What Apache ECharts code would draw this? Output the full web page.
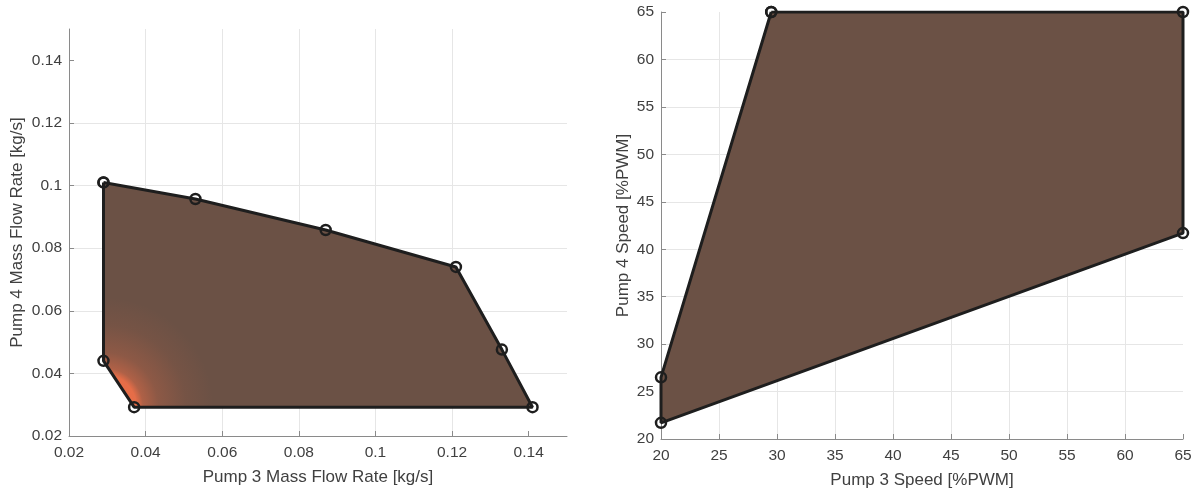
<!DOCTYPE html>
<html>
<head>
<meta charset="utf-8">
<script src="https://cdn.jsdelivr.net/npm/echarts@6/dist/echarts.min.js"></script>
<style>
  html, body { margin: 0; padding: 0; background: #fff; }
  #main { width: 1199px; height: 497px; }
</style>
</head>
<body>
<div id="main"></div>
<script>
// left: mass flow envelope (kg/s)
const flowX = [0.029, 0.053, 0.087, 0.121, 0.133, 0.141, 0.037, 0.029];
const flowY = [0.101, 0.0957, 0.0858, 0.0740, 0.0476, 0.0292, 0.0292, 0.0440];
// where the orange streaks are densest (lower-left corner)
const glowAt = [0.029, 0.0292];
// right: speed envelope (%PWM)
const speedX = [29.5, 65, 65, 20, 20];
const speedY = [65, 65, 41.7, 21.7, 26.5];

const flowTicks = [0.02, 0.04, 0.06, 0.08, 0.1, 0.12, 0.14];
const speedXTicks = [20, 25, 30, 35, 40, 45, 50, 55, 60, 65];
const speedYTicks = [20, 25, 30, 35, 40, 45, 50, 55, 60, 65];

const FILL = '#6b5145';
const EDGE = '#1e1e1e';
const TEXT = '#404040';
const FONT = 'Liberation Sans, Arial, sans-serif';

function pairs(xs, ys) {
  return xs.map((x, i) => [x, ys[i]]);
}

function polygon(idx, xs, ys, fill) {
  const data = pairs(xs, ys);
  return {
    type: 'custom',
    xAxisIndex: idx,
    yAxisIndex: idx,
    silent: true,
    data: data,
    renderItem: function (params, api) {
      if (params.dataIndex !== 0) return null;
      const pts = data.map(p => api.coord(p));
      const f = typeof fill === 'function' ? fill(api) : fill;
      return { type: 'polygon', shape: { points: pts }, style: { fill: f } };
    }
  };
}

function outline(idx, xs, ys) {
  const data = pairs(xs, ys);
  data.push(data[0]);
  return {
    type: 'line',
    xAxisIndex: idx,
    yAxisIndex: idx,
    data: data,
    symbol: 'circle',
    symbolSize: 10,
    itemStyle: { color: 'rgba(0,0,0,0)', borderColor: EDGE, borderWidth: 2.5 },
    lineStyle: { color: EDGE, width: 3 },
    z: 5
  };
}

function axis(grid, min, max, interval, ticks, name, nameGap, isY) {
  return {
    type: 'value',
    gridIndex: grid,
    min: min,
    max: max,
    interval: interval,
    name: name,
    nameLocation: 'middle',
    nameGap: nameGap,
    nameTextStyle: { color: TEXT, fontSize: 17, fontFamily: FONT },
    axisLine: { show: true, lineStyle: { color: '#8a8a8a', width: 1 } },
    axisTick: { show: true, inside: true, length: 5, customValues: ticks, lineStyle: { color: '#8a8a8a' } },
    axisLabel: {
      color: TEXT, fontSize: 15.5, fontFamily: FONT, margin: isY ? 7 : 9,
      customValues: ticks
    },
    splitLine: { show: true, showMinLine: false, showMaxLine: false, lineStyle: { color: '#e6e6e6', width: 1 } }
  };
}

const chart = echarts.init(document.getElementById('main'));

// orange glow laid over the whole left polygon, centred on the corner
const glow = polygon(0, flowX, flowY, function (api) {
  const c = api.coord(glowAt);
  return new echarts.graphic.RadialGradient(c[0], c[1], 110, [
    { offset: 0, color: 'rgba(242,112,72,1)' },
    { offset: 0.3, color: 'rgba(242,112,72,0.9)' },
    { offset: 0.36, color: 'rgba(242,112,72,0.5)' },
    { offset: 0.5, color: 'rgba(242,112,72,0.25)' },
    { offset: 0.75, color: 'rgba(242,112,72,0.08)' },
    { offset: 1, color: 'rgba(242,112,72,0)' }
  ], true);
});
glow.z = 3;

chart.setOption({
  animation: false,
  backgroundColor: '#fff',
  grid: [
    { left: 69, top: 29, width: 498, height: 407 },
    { left: 661, top: 12, width: 522, height: 427 }
  ],
  xAxis: [
    axis(0, 0.02, 0.15, 0.02, flowTicks, 'Pump 3 Mass Flow Rate [kg/s]', 33, false),
    axis(1, 20, 65, 5, speedXTicks, 'Pump 3 Speed [%PWM]', 33, false)
  ],
  yAxis: [
    axis(0, 0.02, 0.15, 0.02, flowTicks, 'Pump 4 Mass Flow Rate [kg/s]', 43, true),
    axis(1, 20, 65, 5, speedYTicks, 'Pump 4 Speed [%PWM]', 29, true)
  ],
  series: [
    polygon(0, flowX, flowY, FILL),
    glow,
    outline(0, flowX, flowY),
    polygon(1, speedX, speedY, FILL),
    outline(1, speedX, speedY)
  ]
});
</script>
</body>
</html>
